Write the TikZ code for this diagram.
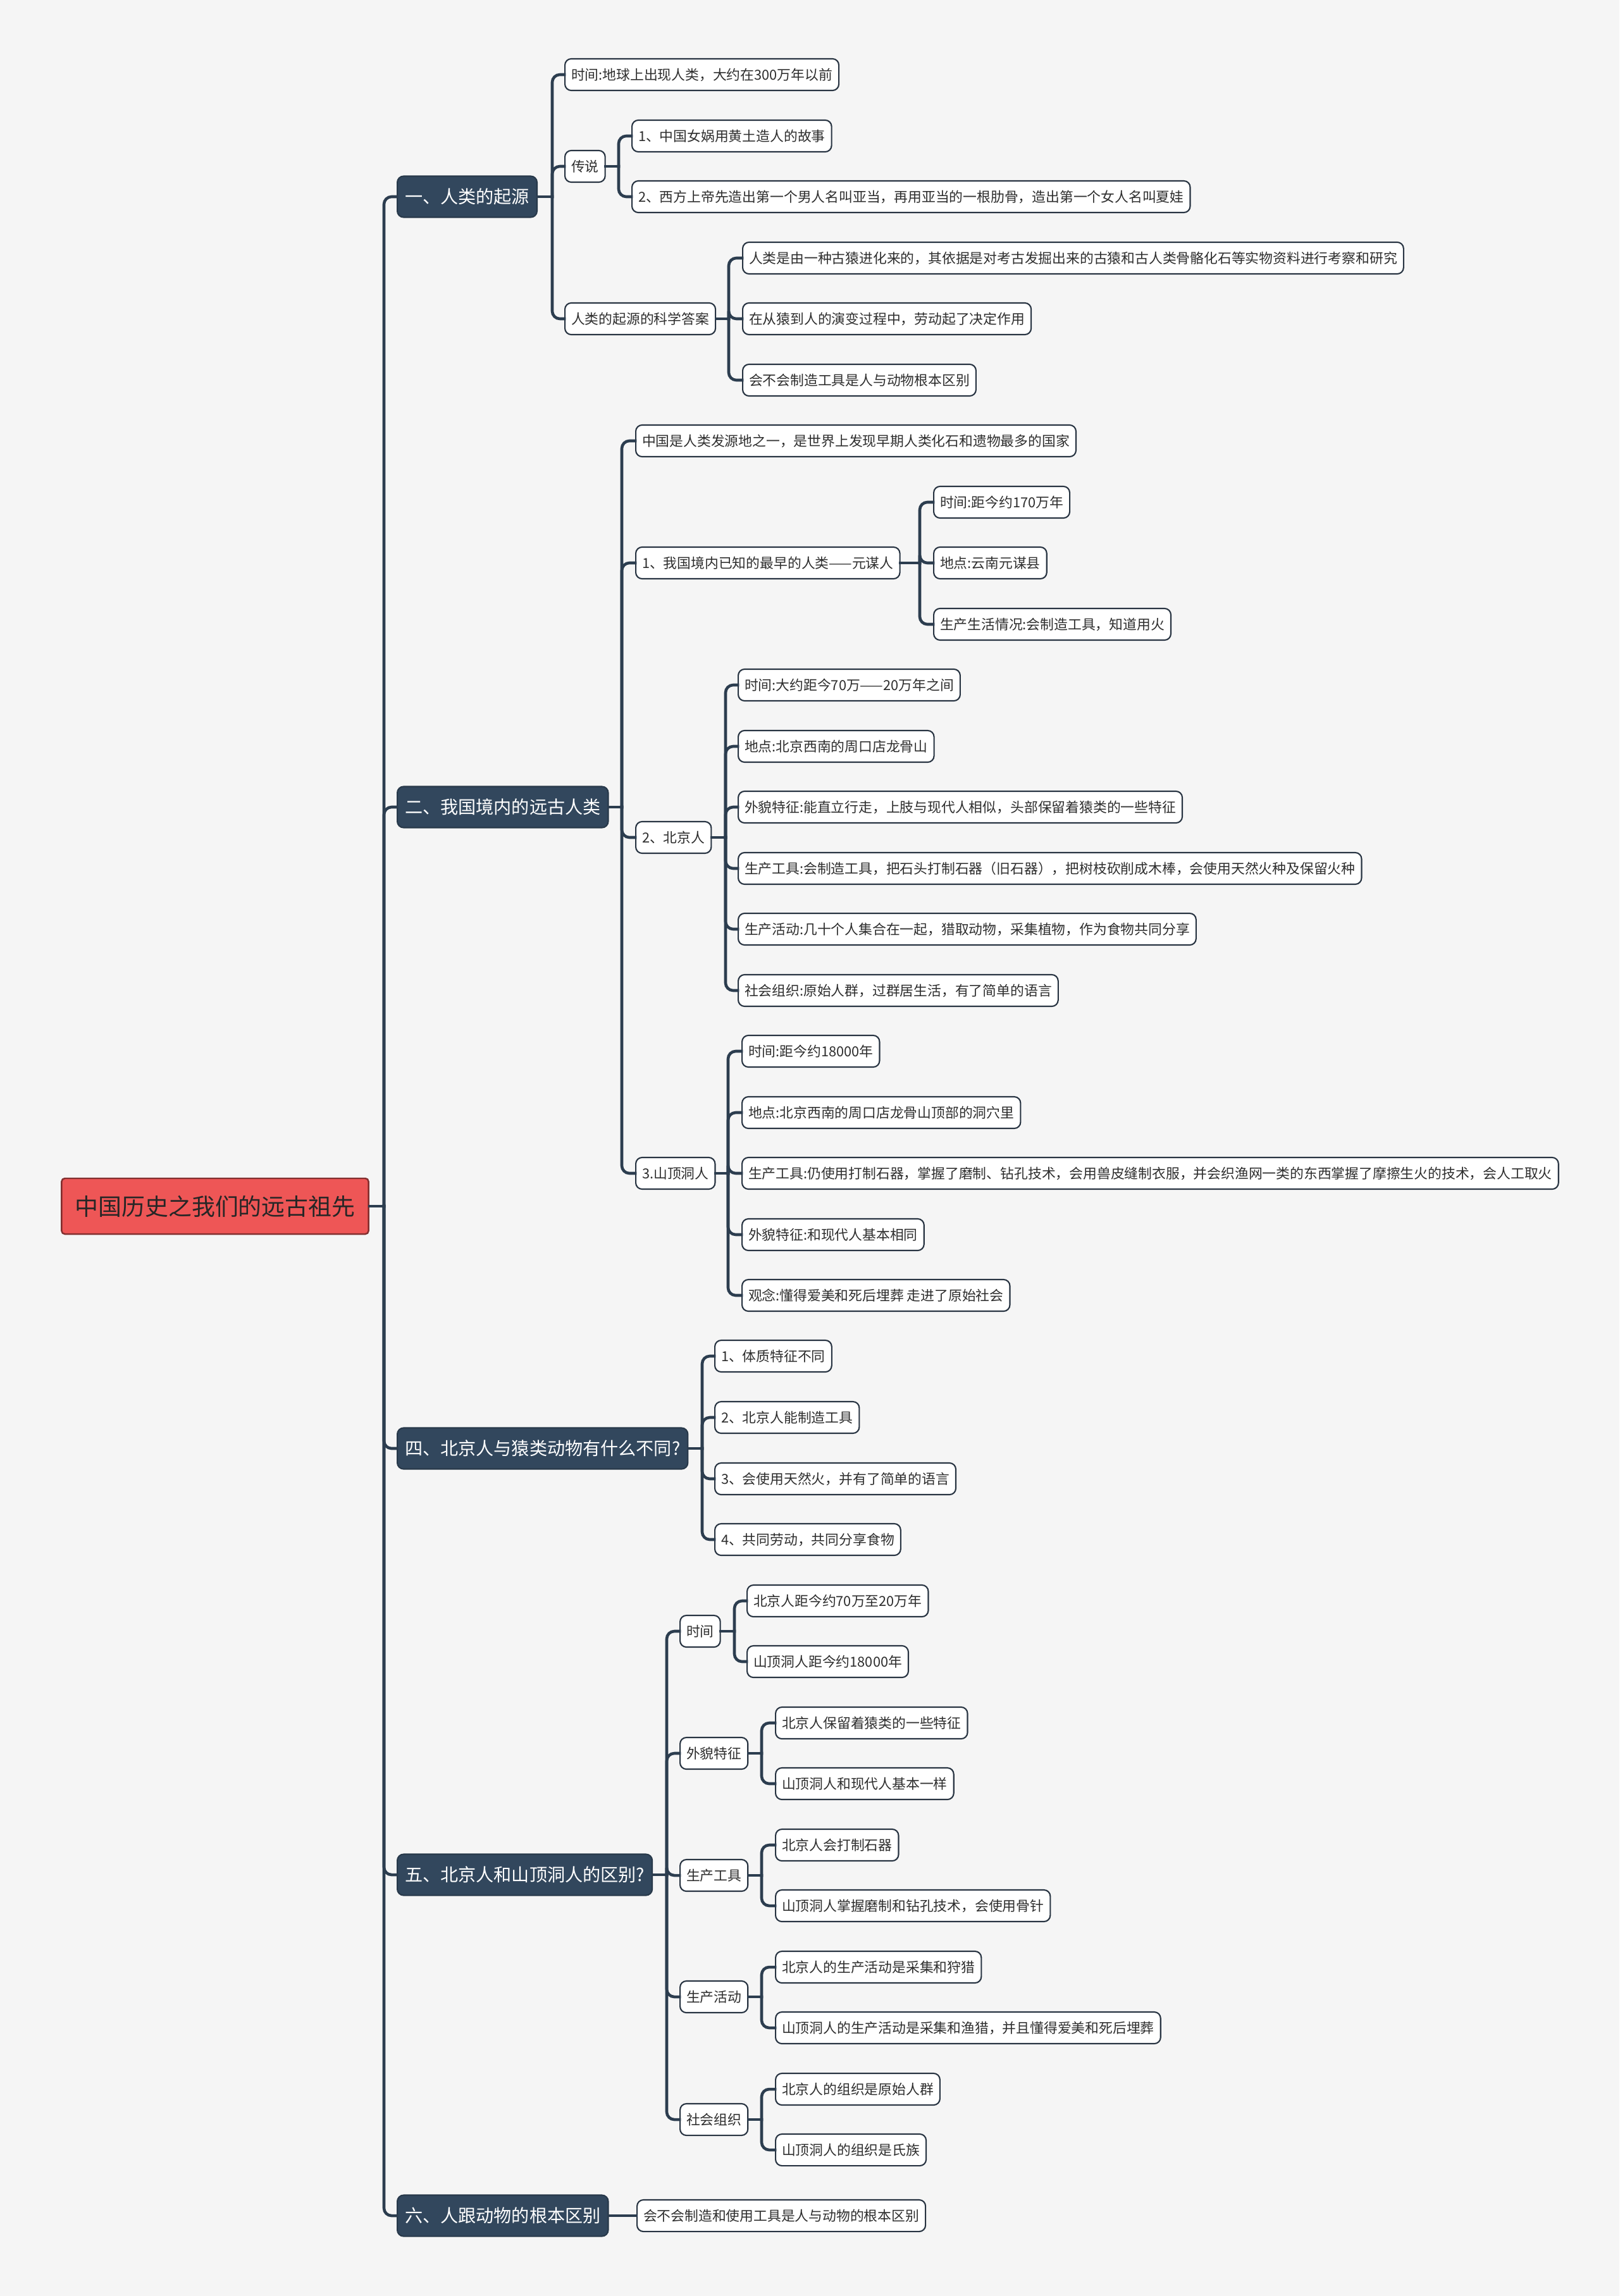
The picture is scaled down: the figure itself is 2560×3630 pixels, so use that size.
\documentclass[tikz,border=0pt]{standalone}
\usepackage{fontspec}
\setmainfont{Noto Sans CJK SC}
\usepackage{tikz}
\usetikzlibrary{calc}
\definecolor{bgcol}{RGB}{245,245,245}
\definecolor{topiccol}{RGB}{50,71,93}
\definecolor{rootcol}{RGB}{238,86,86}
\definecolor{linkcol}{RGB}{44,61,79}
\definecolor{leafedge}{RGB}{40,52,66}

\begin{document}
\begin{tikzpicture}[
    x=0.01cm, y=-0.01cm,
    rootbox/.style={rectangle, rounded corners=0.05cm, fill=rootcol, draw=rootcol!55!black,
                line width=0.7pt, minimum height=0.88cm, inner xsep=0.21cm,
                text=black!85, font=\fontsize{10.5}{12}\selectfont},
    topic/.style={rectangle, rounded corners=0.1cm, fill=topiccol, draw=topiccol!80!black,
                line width=0.6pt, minimum height=0.65cm, inner xsep=0.12cm, anchor=west,
                text=white, font=\fontsize{8}{9}\selectfont},
    leaf/.style={rectangle, rounded corners=0.1cm, fill=white, draw=leafedge,
                line width=0.6pt, minimum height=0.5cm, inner xsep=0.1cm, inner ysep=0pt,
                anchor=west, text=black!82, font=\fontsize{6.2}{7}\selectfont},
    link/.style={draw=linkcol, line width=1.3pt, line cap=rect, rounded corners=0.12cm}
]
\fill[bgcol] (0,0) rectangle (2560,3630);
\useasboundingbox (0,0) rectangle (2560,3630);

% root and main topics
\node[rootbox] (R) at (340,1907) {中国历史之我们的远古祖先};
\node[topic] (t1) at (627,311)  {一、人类的起源};
\node[topic] (t2) at (627,1276) {二、我国境内的远古人类};
\node[topic] (t4) at (627,2290) {四、北京人与猿类动物有什么不同?};
\node[topic] (t5) at (627,2964) {五、北京人和山顶洞人的区别?};
\node[topic] (t6) at (627,3503) {六、人跟动物的根本区别};

% 一
\node[leaf] (a1) at (892,118) {时间:地球上出现人类，大约在300万年以前};
\node[leaf] (a2) at (892,263) {传说};
\node[leaf] (a3) at (892,504) {人类的起源的科学答案};
\node[leaf] (a21) at (998,215) {1、中国女娲用黄土造人的故事};
\node[leaf] (a22) at (998,311) {2、西方上帝先造出第一个男人名叫亚当，再用亚当的一根肋骨，造出第一个女人名叫夏娃};
\node[leaf] (a31) at (1173,408) {人类是由一种古猿进化来的，其依据是对考古发掘出来的古猿和古人类骨骼化石等实物资料进行考察和研究};
\node[leaf] (a32) at (1173,504) {在从猿到人的演变过程中，劳动起了决定作用};
\node[leaf] (a33) at (1173,601) {会不会制造工具是人与动物根本区别};

% 二
\node[leaf] (b1) at (1004,697)  {中国是人类发源地之一，是世界上发现早期人类化石和遗物最多的国家};
\node[leaf] (b2) at (1004,890)  {1、我国境内已知的最早的人类——元谋人};
\node[leaf] (b3) at (1004,1324) {2、北京人};
\node[leaf] (b4) at (1004,1855) {3.山顶洞人};
\node[leaf] (b21) at (1475,794) {时间:距今约170万年};
\node[leaf] (b22) at (1475,890) {地点:云南元谋县};
\node[leaf] (b23) at (1475,987) {生产生活情况:会制造工具，知道用火};
\node[leaf] (b31) at (1166,1083) {时间:大约距今70万——20万年之间};
\node[leaf] (b32) at (1166,1180) {地点:北京西南的周口店龙骨山};
\node[leaf] (b33) at (1166,1276) {外貌特征:能直立行走，上肢与现代人相似，头部保留着猿类的一些特征};
\node[leaf] (b34) at (1166,1373) {生产工具:会制造工具，把石头打制石器（旧石器），把树枝砍削成木棒，会使用天然火种及保留火种};
\node[leaf] (b35) at (1166,1469) {生产活动:几十个人集合在一起，猎取动物，采集植物，作为食物共同分享};
\node[leaf] (b36) at (1166,1566) {社会组织:原始人群，过群居生活，有了简单的语言};
\node[leaf] (b41) at (1172,1662) {时间:距今约18000年};
\node[leaf] (b42) at (1172,1759) {地点:北京西南的周口店龙骨山顶部的洞穴里};
\node[leaf] (b43) at (1172,1855) {生产工具:仍使用打制石器，掌握了磨制、钻孔技术，会用兽皮缝制衣服，并会织渔网一类的东西掌握了摩擦生火的技术，会人工取火};
\node[leaf] (b44) at (1172,1952) {外貌特征:和现代人基本相同};
\node[leaf] (b45) at (1172,2048) {观念:懂得爱美和死后埋葬 走进了原始社会};

% 四
\node[leaf] (d1) at (1129,2144) {1、体质特征不同};
\node[leaf] (d2) at (1129,2241) {2、北京人能制造工具};
\node[leaf] (d3) at (1129,2338) {3、会使用天然火，并有了简单的语言};
\node[leaf] (d4) at (1129,2434) {4、共同劳动，共同分享食物};

% 五
\node[leaf] (e1) at (1074,2579) {时间};
\node[leaf] (e2) at (1074,2772) {外貌特征};
\node[leaf] (e3) at (1074,2965) {生产工具};
\node[leaf] (e4) at (1074,3157) {生产活动};
\node[leaf] (e5) at (1074,3351) {社会组织};
\node[leaf] (e11) at (1180,2531) {北京人距今约70万至20万年};
\node[leaf] (e12) at (1180,2627) {山顶洞人距今约18000年};
\node[leaf] (e21) at (1225,2724) {北京人保留着猿类的一些特征};
\node[leaf] (e22) at (1225,2820) {山顶洞人和现代人基本一样};
\node[leaf] (e31) at (1225,2917) {北京人会打制石器};
\node[leaf] (e32) at (1225,3013) {山顶洞人掌握磨制和钻孔技术，会使用骨针};
\node[leaf] (e41) at (1225,3110) {北京人的生产活动是采集和狩猎};
\node[leaf] (e42) at (1225,3206) {山顶洞人的生产活动是采集和渔猎，并且懂得爱美和死后埋葬};
\node[leaf] (e51) at (1225,3303) {北京人的组织是原始人群};
\node[leaf] (e52) at (1225,3399) {山顶洞人的组织是氏族};

% 六
\node[leaf] (f1) at (1006,3503) {会不会制造和使用工具是人与动物的根本区别};

% junctions
\coordinate (j0) at (607,1907);
\coordinate (j1) at (873,311);
\coordinate (ja2) at (978,263);
\coordinate (ja3) at (1152,504);
\coordinate (j2) at (983,1276);
\coordinate (jb2) at (1454,890);
\coordinate (jb3) at (1147,1324);
\coordinate (jb4) at (1151,1855);
\coordinate (j4) at (1110,2290);
\coordinate (j5) at (1054,2964);
\coordinate (je1) at (1161,2579);
\coordinate (je2) at (1204,2772);
\coordinate (je3) at (1204,2965);
\coordinate (je4) at (1204,3157);
\coordinate (je5) at (1204,3351);
\coordinate (j6) at (985,3503);

% connectors
\draw[link] (R.east) -- (j0);
\draw[link] (j0) |- (t1.west);
\draw[link] (j0) |- (t2.west);
\draw[link] (j0) |- (t4.west);
\draw[link] (j0) |- (t5.west);
\draw[link] (j0) |- (t6.west);

\draw[link] (t1.east) -- (j1);
\draw[link] (j1) |- (a1.west);
\draw[link] (j1) |- (a2.west);
\draw[link] (j1) |- (a3.west);
\draw[link] (a2.east) -- (ja2);
\draw[link] (ja2) |- (a21.west);
\draw[link] (ja2) |- (a22.west);
\draw[link] (a3.east) -- (ja3);
\draw[link] (ja3) |- (a31.west);
\draw[link] (ja3) |- (a32.west);
\draw[link] (ja3) |- (a33.west);

\draw[link] (t2.east) -- (j2);
\draw[link] (j2) |- (b1.west);
\draw[link] (j2) |- (b2.west);
\draw[link] (j2) |- (b3.west);
\draw[link] (j2) |- (b4.west);
\draw[link] (b2.east) -- (jb2);
\draw[link] (jb2) |- (b21.west);
\draw[link] (jb2) |- (b22.west);
\draw[link] (jb2) |- (b23.west);
\draw[link] (b3.east) -- (jb3);
\draw[link] (jb3) |- (b31.west);
\draw[link] (jb3) |- (b32.west);
\draw[link] (jb3) |- (b33.west);
\draw[link] (jb3) |- (b34.west);
\draw[link] (jb3) |- (b35.west);
\draw[link] (jb3) |- (b36.west);
\draw[link] (b4.east) -- (jb4);
\draw[link] (jb4) |- (b41.west);
\draw[link] (jb4) |- (b42.west);
\draw[link] (jb4) |- (b43.west);
\draw[link] (jb4) |- (b44.west);
\draw[link] (jb4) |- (b45.west);

\draw[link] (t4.east) -- (j4);
\draw[link] (j4) |- (d1.west);
\draw[link] (j4) |- (d2.west);
\draw[link] (j4) |- (d3.west);
\draw[link] (j4) |- (d4.west);

\draw[link] (t5.east) -- (j5);
\draw[link] (j5) |- (e1.west);
\draw[link] (j5) |- (e2.west);
\draw[link] (j5) |- (e3.west);
\draw[link] (j5) |- (e4.west);
\draw[link] (j5) |- (e5.west);
\draw[link] (e1.east) -- (je1);
\draw[link] (je1) |- (e11.west);
\draw[link] (je1) |- (e12.west);
\draw[link] (e2.east) -- (je2);
\draw[link] (je2) |- (e21.west);
\draw[link] (je2) |- (e22.west);
\draw[link] (e3.east) -- (je3);
\draw[link] (je3) |- (e31.west);
\draw[link] (je3) |- (e32.west);
\draw[link] (e4.east) -- (je4);
\draw[link] (je4) |- (e41.west);
\draw[link] (je4) |- (e42.west);
\draw[link] (e5.east) -- (je5);
\draw[link] (je5) |- (e51.west);
\draw[link] (je5) |- (e52.west);

\draw[link] (t6.east) -- (j6);
\draw[link] (j6) -- (f1.west);
\end{tikzpicture}
\end{document}
